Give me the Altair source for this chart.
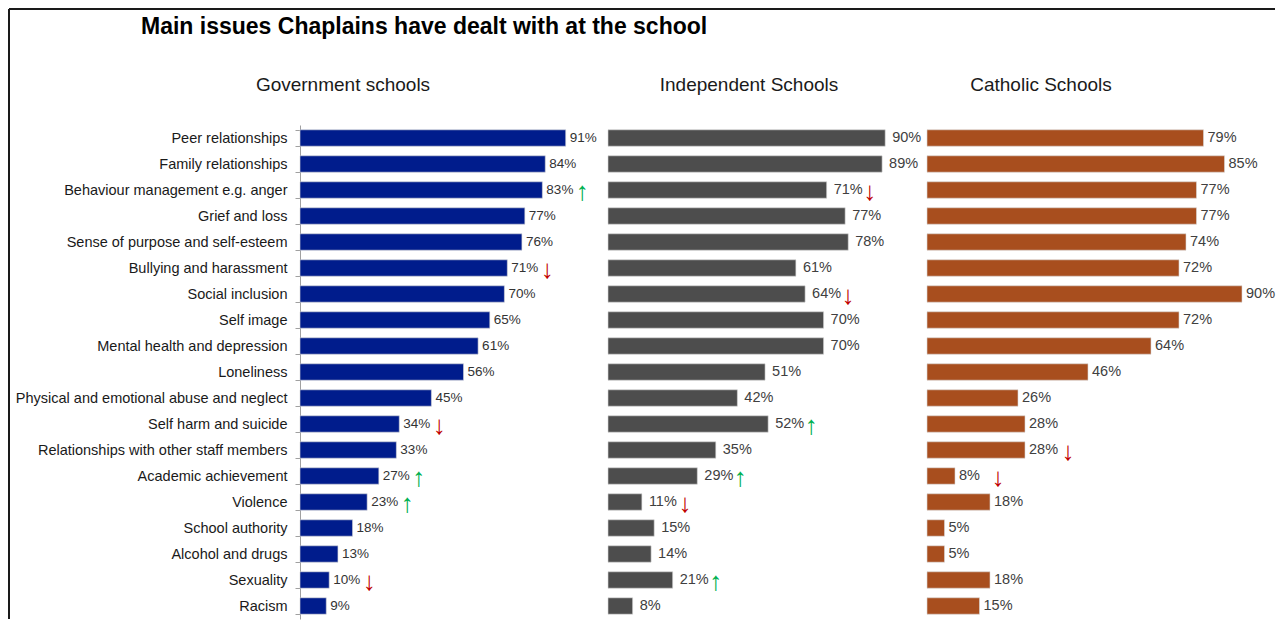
import altair as alt
import pandas as pd

categories = [
    "Peer relationships", "Family relationships", "Behaviour management e.g. anger",
    "Grief and loss", "Sense of purpose and self-esteem", "Bullying and harassment",
    "Social inclusion", "Self image", "Mental health and depression", "Loneliness",
    "Physical and emotional abuse and neglect", "Self harm and suicide",
    "Relationships with other staff members", "Academic achievement", "Violence",
    "School authority", "Alcohol and drugs", "Sexuality", "Racism",
]
gov_values = [91, 84, 83, 77, 76, 71, 70, 65, 61, 56, 45, 34, 33, 27, 23, 18, 13, 10, 9]
ind_values = [90, 89, 71, 77, 78, 61, 64, 70, 70, 51, 42, 52, 35, 29, 11, 15, 14, 21, 8]
cath_values = [79, 85, 77, 77, 74, 72, 90, 72, 64, 46, 26, 28, 28, 8, 18, 5, 5, 18, 15]
gov_arrows = ["", "", "up", "", "", "down", "", "", "", "", "", "down", "", "up", "up", "", "", "down", ""]
ind_arrows = ["", "", "down", "", "", "", "down", "", "", "", "", "up", "", "up", "down", "", "", "up", ""]
cath_arrows = ["", "", "", "", "", "", "up", "", "", "", "", "", "down", "down", "", "", "", "", ""]
panel_titles = ["Government schools", "Independent Schools", "Catholic Schools"]
main_title = "Main issues Chaplains have dealt with at the school"

FONT = "Liberation Sans"
H = 494
TOP = 116
GLYPH = {"up": "\u2191", "down": "\u2193"}


def panel(values, arrows, color, width, xmax, lab_size, lab_color, lab_dx, arrow_dx, title,
          title_x, with_axis=False, clip=False):
    df = pd.DataFrame({
        "issue": categories,
        "value": values,
        "label": [f"{v}%" for v in values],
    })
    adf = pd.DataFrame([
        {"issue": c, "value": v, "arrow": a, "glyph": GLYPH[a]}
        for c, v, a in zip(categories, values, arrows) if a
    ])
    if with_axis:
        yaxis = alt.Axis(title=None, labelFont=FONT, labelFontSize=14.5, labelColor="#1a1a1a",
                         tickSize=5, labelPadding=8, tickBand="extent", domainColor="#a0a0a0",
                         tickColor="#a0a0a0", labelLimit=400, domainWidth=1)
    else:
        yaxis = None
    y = alt.Y("issue:N", sort=categories, axis=yaxis,
              scale=alt.Scale(paddingInner=0.37, paddingOuter=0.185))
    x = alt.X("value:Q", scale=alt.Scale(domain=[0, xmax]), axis=None)
    bars = alt.Chart(df).mark_bar(color=color, stroke="#d8d8d8", strokeWidth=0.6).encode(x=x, y=y)
    labels = alt.Chart(df).mark_text(
        align="left", baseline="middle", dx=lab_dx, font=FONT, fontSize=lab_size, color=lab_color,
        clip=clip
    ).encode(x=x, y=y, text="label:N")
    arr = alt.Chart(adf).mark_text(
        align="center", baseline="middle", dx=arrow_dx, dy=2, font=FONT, fontSize=26, clip=clip
    ).encode(
        x=x, y=y, text="glyph:N",
        color=alt.Color("arrow:N", scale=alt.Scale(domain=["up", "down"], range=["#00b050", "#c00000"]),
                        legend=None),
    )
    ttl = alt.Chart(alt.Data(values=[{"t": title}])).mark_text(
        align="center", baseline="middle", font=FONT, fontSize=19, color="#1a1a1a"
    ).encode(x=alt.value(title_x), y=alt.value(-40), text="t:N")
    layers = [bars, labels, arr, ttl]
    if with_axis:
        one = alt.Data(values=[{"t": main_title}])
        vline = alt.Chart(one).mark_rule(color="#1a1a1a", strokeWidth=2).encode(
            x=alt.value(-291), y=alt.value(-TOP), y2=alt.value(H))
        hline = alt.Chart(one).mark_rule(color="#1a1a1a", strokeWidth=2).encode(
            x=alt.value(-291), x2=alt.value(975), y=alt.value(-TOP))
        mtitle = alt.Chart(one).mark_text(
            align="left", baseline="middle", font=FONT, fontSize=23, fontWeight="bold", color="#000000"
        ).encode(x=alt.value(-159), y=alt.value(-98), text="t:N")
        layers += [vline, hline, mtitle]
    return alt.layer(*layers).properties(width=width, height=H)


gov = panel(gov_values, gov_arrows, "#001c8c", 292, 100, 13.5, "#333333", 4, 40,
            panel_titles[0], 43, with_axis=True)
ind = panel(ind_values, ind_arrows, "#4d4d4d", 303, 303 / 3.08, 14.5, "#404040", 7, 43,
            panel_titles[1], 141)
cath = panel(cath_values, cath_arrows, "#a84e1e", 349, 349 / 3.5, 14.5, "#404040", 4, 43,
             panel_titles[2], 114, clip=True)

chart = alt.hconcat(gov, ind, cath, spacing=16, bounds="flush").properties(
    padding={"left": 0, "top": 0, "right": 0, "bottom": 0}
).configure_view(stroke=None)

chart.save("out.html", embed_options={"renderer": "svg", "actions": False})
